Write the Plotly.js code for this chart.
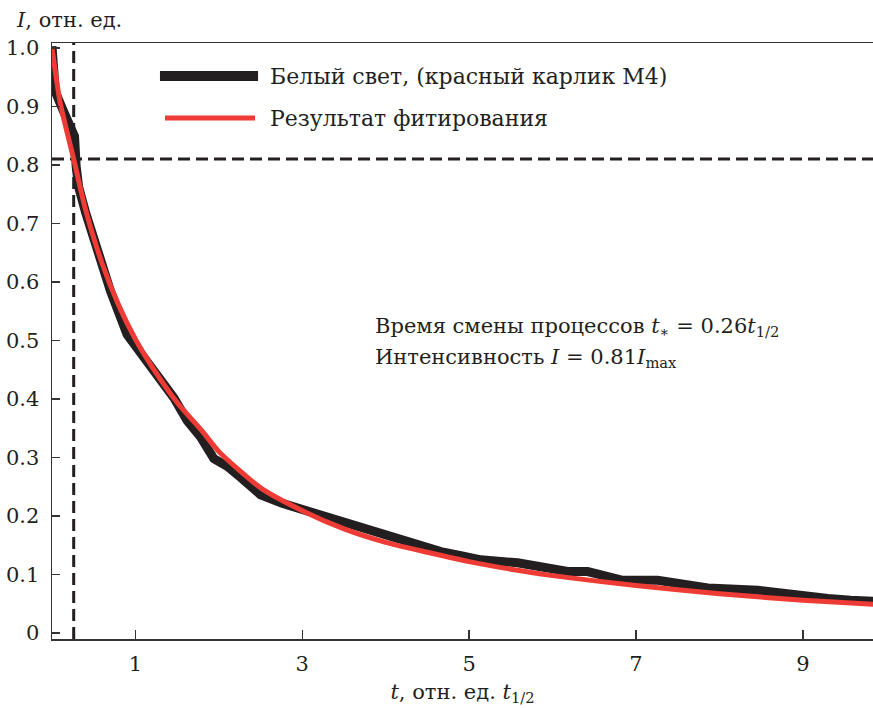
<!DOCTYPE html>
<html>
<head>
<meta charset="utf-8">
<script src="https://cdn.plot.ly/plotly-3.0.1.min.js"></script>
<style>html,body{margin:0;padding:0;background:#fff;}#chart{width:873px;height:708px;}</style>
</head>
<body>
<div id="chart"></div>
<script>
// Observed data: white light (red dwarf M4)
const tData = [0, 0.04, 0.12, 0.22, 0.27, 0.29, 0.32, 0.4, 0.54, 0.7, 0.9, 1.06, 1.2, 1.38, 1.46, 1.62, 1.78, 1.94, 2.1, 2.26, 2.5, 2.75, 2.98, 3.3, 3.62, 4.0, 4.34, 4.66, 4.9, 5.14, 5.58, 5.9, 6.18, 6.42, 6.73, 6.84, 7.26, 7.55, 7.86, 8.46, 8.97, 9.3, 9.57, 9.85];
const iData = [1.003, 0.925, 0.898, 0.866, 0.849, 0.797, 0.762, 0.72, 0.651, 0.585, 0.51, 0.478, 0.452, 0.418, 0.402, 0.363, 0.335, 0.298, 0.285, 0.266, 0.236, 0.222, 0.212, 0.196, 0.181, 0.167, 0.153, 0.139, 0.132, 0.125, 0.12, 0.112, 0.105, 0.105, 0.093, 0.09, 0.09, 0.083, 0.077, 0.073, 0.063, 0.059, 0.056, 0.054];
// Fit result
const tFit = [0, 0.1, 0.26, 0.4, 0.6, 0.8, 1.0, 1.2, 1.5, 1.8, 2.0, 2.5, 3.0, 3.5, 4.0, 4.5, 5.0, 5.5, 6.0, 7.0, 8.0, 9.0, 9.85];
const iFit = [1.0, 0.905, 0.81, 0.725, 0.632, 0.56, 0.502, 0.455, 0.394, 0.345, 0.31, 0.248, 0.209, 0.178, 0.155, 0.138, 0.122, 0.109, 0.098, 0.081, 0.067, 0.056, 0.049];
// Switch point
const tStar = 0.26;
const iStar = 0.81;
// Axis ticks
const xTickVals = [1, 3, 5, 7, 9];
const xTickText = ['1', '3', '5', '7', '9'];
const yTickVals = [0, 0.1, 0.2, 0.3, 0.4, 0.5, 0.6, 0.7, 0.8, 0.9, 1.0];
const yTickText = ['0', '0.1', '0.2', '0.3', '0.4', '0.5', '0.6', '0.7', '0.8', '0.9', '1.0'];
const legendNames = ['Белый свет, (красный карлик M4)', 'Результат фитирования'];

const FONT = 'DejaVu Serif';
const BLACK = '#231f20';
const RED = '#ee3b36';
const AX = '#333333';

const traces = [
  {x: tData, y: iData, type: 'scatter', mode: 'lines', name: legendNames[0],
   line: {color: BLACK, width: 9}, showlegend: false},
  {x: tFit, y: iFit, type: 'scatter', mode: 'lines', name: legendNames[1],
   line: {color: RED, width: 5, shape: 'spline', smoothing: 0.6}, showlegend: false}
];

const layout = {
  width: 873, height: 708,
  margin: {l: 52, r: 0, t: 43, b: 69},
  paper_bgcolor: '#fff', plot_bgcolor: '#fff',
  font: {family: FONT, size: 21, color: '#231f20'},
  xaxis: {
    range: [0, 9.84], tickvals: xTickVals, ticktext: xTickText,
    ticks: 'inside', ticklen: 9, tickwidth: 1.5, tickcolor: AX,
    showline: true, linecolor: AX, linewidth: 1.5, mirror: true,
    showgrid: false, zeroline: false, ticklabelstandoff: 5,
    tickfont: {family: FONT, size: 21},
    title: {text: '<i>t</i>, отн. ед. <i>t</i><sub>1/2</sub>', font: {family: FONT, size: 21}, standoff: 9}
  },
  yaxis: {
    range: [-0.0103, 1.0085], tickvals: yTickVals, ticktext: yTickText,
    ticks: 'inside', ticklen: 8, tickwidth: 1.5, tickcolor: AX,
    showline: true, linecolor: AX, linewidth: 1.5,
    tickfont: {family: FONT, size: 21},
    showgrid: false, zeroline: false, ticklabelstandoff: 7
  },
  shapes: [
    {type: 'line', xref: 'x', yref: 'paper', x0: tStar, x1: tStar, y0: 0, y1: 1, layer: 'below',
     line: {color: BLACK, width: 3, dash: '12px,6px'}},
    {type: 'line', xref: 'paper', yref: 'y', x0: 0, x1: 1, y0: iStar, y1: iStar, layer: 'below',
     line: {color: BLACK, width: 3, dash: '12px,6px'}},
    {type: 'line', xref: 'paper', yref: 'paper', x0: 0.1315, x1: 0.251, y0: 0.9446, y1: 0.9446,
     line: {color: BLACK, width: 10}},
    {type: 'line', xref: 'paper', yref: 'paper', x0: 0.1376, x1: 0.2473, y0: 0.874, y1: 0.874,
     line: {color: RED, width: 5}}
  ],
  annotations: [
    {xref: 'paper', yref: 'paper', x: 0.263, y: 0.9446, xanchor: 'left', yanchor: 'middle', showarrow: false,
     text: legendNames[0], font: {family: FONT, size: 22}},
    {xref: 'paper', yref: 'paper', x: 0.263, y: 0.874, xanchor: 'left', yanchor: 'middle', showarrow: false,
     text: legendNames[1], font: {family: FONT, size: 22}},
    {xref: 'paper', yref: 'paper', x: 0.391, y: 0.5235, xanchor: 'left', yanchor: 'middle', showarrow: false,
     text: 'Время смены процессов <i>t</i><sub>∗</sub> = 0.26<i>t</i><sub>1/2</sub>', font: {family: FONT, size: 21}},
    {xref: 'paper', yref: 'paper', x: 0.391, y: 0.4715, xanchor: 'left', yanchor: 'middle', showarrow: false,
     text: 'Интенсивность <i>I</i> = 0.81<i>I</i><sub>max</sub>', font: {family: FONT, size: 21}},
    {xref: 'paper', yref: 'paper', x: -0.0463, y: 1.0386, xanchor: 'left', yanchor: 'middle', showarrow: false,
     text: '<i>I</i>, отн. ед.', font: {family: FONT, size: 21}}
  ]
};

Plotly.newPlot('chart', traces, layout, {displayModeBar: false, staticPlot: true});
</script>
</body>
</html>
